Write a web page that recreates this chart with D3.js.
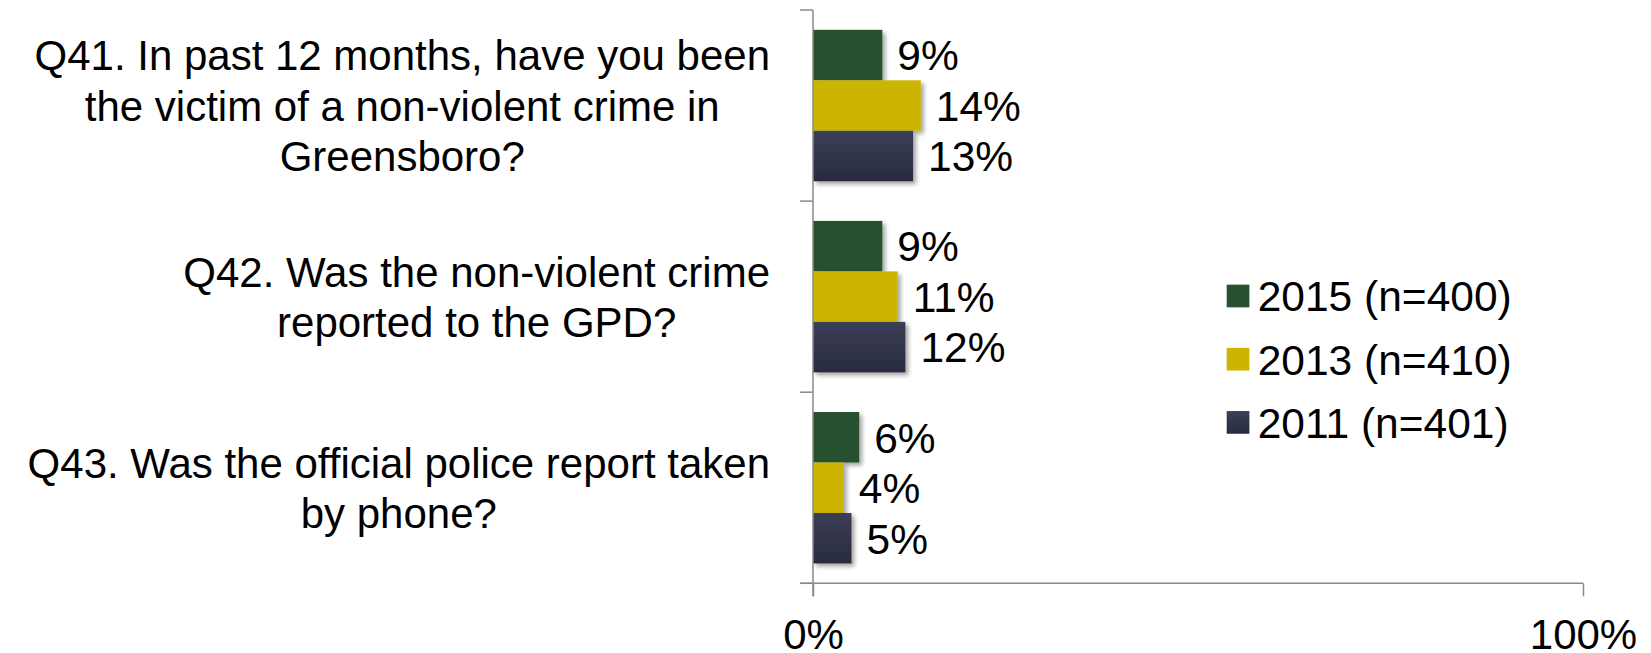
<!DOCTYPE html>
<html>
<head>
<meta charset="utf-8">
<script src="https://cdn.jsdelivr.net/npm/d3@7"></script>
<style>
  html, body { margin: 0; padding: 0; background: #ffffff; }
  svg { display: block; }
  text { font-family: "Liberation Sans", Arial, sans-serif; fill: #000; }
</style>
</head>
<body>
<svg id="chart" width="1651" height="653"></svg>
<script>
// ---- data ----
const categories = ["Q41", "Q42", "Q43"];
const categoryLines = [
  ["Q41. In past 12 months, have you been", "the victim of a non-violent crime in", "Greensboro?"],
  ["Q42. Was the non-violent crime", "reported to the GPD?"],
  ["Q43. Was the official police report taken", "by phone?"]
];
const seriesNames = ["2015 (n=400)", "2013 (n=410)", "2011 (n=401)"];
const values2015 = [9, 9, 6];
const values2013 = [14, 11, 4];
const values2011 = [13, 12, 5];
const tickValues = [0, 100];
const tickLabels = ["0%", "100%"];

const seriesValues = [values2015, values2013, values2011];

// ---- layout ----
const svg = d3.select("#chart");
const plot = { left: 813, right: 1583, top: 10, bottom: 583.3 };

const x = d3.scaleLinear().domain([0, 100]).range([plot.left, plot.right]);
const y = d3.scaleBand().domain(categories).range([plot.top, plot.bottom]).paddingInner(0).paddingOuter(0);
const ySeries = d3.scaleBand().domain(seriesNames).range([0, y.bandwidth()]).paddingInner(0).paddingOuter(0.393);

const colors = ["#27512f", "#ccb500", "url(#navyGrad)"];

// defs
const defs = svg.append("defs");
const grad = defs.append("linearGradient").attr("id", "navyGrad")
  .attr("x1", 0).attr("y1", 0).attr("x2", 0).attr("y2", 1);
grad.append("stop").attr("offset", "0%").attr("stop-color", "#3b3f57");
grad.append("stop").attr("offset", "100%").attr("stop-color", "#282b3d");
const f = defs.append("filter").attr("id", "shadow")
  .attr("x", "-20%").attr("y", "-20%").attr("width", "150%").attr("height", "150%");
f.append("feDropShadow").attr("dx", 3).attr("dy", 3).attr("stdDeviation", 2)
  .attr("flood-color", "#000").attr("flood-opacity", 0.35);

// ---- bars ----
const rows = [];
categories.forEach((c, ci) => {
  seriesNames.forEach((s, si) => {
    rows.push({ cat: c, ser: s, si, v: seriesValues[si][ci] });
  });
});

svg.append("g").selectAll("rect").data(rows).join("rect")
  .attr("x", x(0))
  .attr("y", d => y(d.cat) + ySeries(d.ser))
  .attr("width", d => x(d.v) - x(0))
  .attr("height", ySeries.bandwidth())
  .attr("fill", d => colors[d.si])
  .attr("filter", "url(#shadow)");

// value labels
const valFont = 42.5;
svg.append("g").selectAll("text").data(rows).join("text")
  .attr("x", d => x(d.v) + 15)
  .attr("y", d => y(d.cat) + ySeries(d.ser) + ySeries.bandwidth() / 2 + valFont * 0.36)
  .attr("font-size", valFont)
  .text(d => d.v + "%");

// ---- axes ----
const axisColor = "#8a8a8a";
const yAxisG = svg.append("g").attr("transform", `translate(${plot.left},0)`);
yAxisG.selectAll(".bound").data([plot.top].concat(categories.map(c => y(c) + y.bandwidth())))
  .join("line").attr("class", "bound")
  .attr("x1", -13).attr("x2", 0).attr("y1", d => d).attr("y2", d => d);
yAxisG.append("line").attr("x1", 0).attr("x2", 0).attr("y1", plot.top).attr("y2", plot.bottom + 13);
yAxisG.selectAll("line").attr("stroke", axisColor).attr("stroke-width", 1.5);

const xAxis = d3.axisBottom(x).tickValues(tickValues).tickSize(13)
  .tickFormat((d, i) => tickLabels[i]).tickSizeOuter(0);
const xAxisG = svg.append("g").attr("transform", `translate(0,${plot.bottom})`).call(xAxis);
xAxisG.select(".domain").remove();
xAxisG.append("line").attr("x1", plot.left - 13).attr("x2", plot.right).attr("y1", 0).attr("y2", 0);
xAxisG.selectAll("line").attr("stroke", axisColor).attr("stroke-width", 1.5);
xAxisG.selectAll(".tick text")
  .attr("font-size", 42).attr("font-family", "Liberation Sans, Arial, sans-serif")
  .attr("fill", "#000").attr("y", 0).attr("dy", 0)
  .attr("transform", "translate(0,66)");

// ---- category labels ----
const catFont = 42, lineH = 50.5, blockRight = 770;
const catG = svg.append("g");
categories.forEach((c, ci) => {
  const lines = categoryLines[ci];
  const g = catG.append("g");
  const texts = g.selectAll("text").data(lines).join("text")
    .attr("font-size", catFont)
    .attr("text-anchor", "middle")
    .text(d => d);
  let maxW = 0;
  texts.each(function() { maxW = Math.max(maxW, this.getComputedTextLength()); });
  const cx = blockRight - maxW / 2;
  const cy = y(c) + y.bandwidth() / 2;
  const n = lines.length;
  texts.attr("x", cx)
    .attr("y", (d, i) => cy + (i - (n - 1) / 2) * lineH + catFont * 0.36);
});

// ---- legend ----
const legFont = 42.5, legSq = 22.7, legX = 1226.7, legY0 = 296, legStep = 63.2;
const leg = svg.append("g");
seriesNames.forEach((s, si) => {
  const cy = legY0 + si * legStep;
  leg.append("rect").attr("x", legX).attr("y", cy - legSq / 2)
    .attr("width", legSq).attr("height", legSq).attr("fill", colors[si]);
  leg.append("text").attr("x", legX + 31).attr("y", cy + legFont * 0.36)
    .attr("font-size", legFont).text(s);
});
</script>
</body>
</html>
